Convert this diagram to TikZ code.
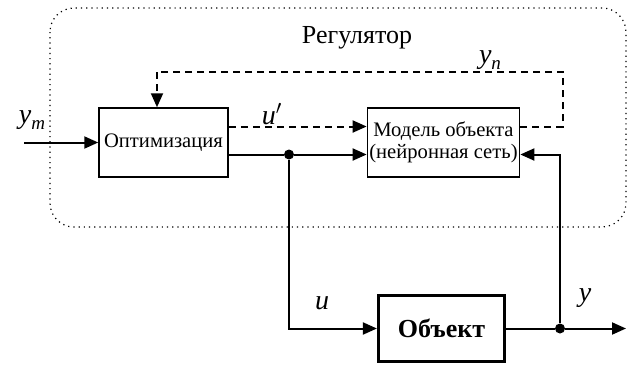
\documentclass[tikz,border=0pt]{standalone}
\usepackage{fontspec}
\setmainfont{LiberationSerif}[Extension=.ttf, UprightFont=*-Regular, BoldFont=*-Bold, ItalicFont=*-Italic, BoldItalicFont=*-BoldItalic]
\usetikzlibrary{arrows.meta}

\begin{document}
\begin{tikzpicture}[x=0.5pt, y=-0.5pt, font=\fontsize{10.3}{12}\selectfont]
        \useasboundingbox (0,0) rectangle (628,365);
        \tikzset{
            block/.style={draw, line width=0.75pt, minimum height=34.5pt, inner sep=1pt},
            plant/.style={draw, line width=1.6pt, minimum width=63pt, minimum height=33pt, font=\fontsize{13}{14}\selectfont\bfseries},
            signal/.style={line width=1pt, -{Triangle[length=7pt, width=6pt]}},
            model line/.style={line width=1pt, dash pattern=on 3.5pt off 2.5pt},
            dot/.style={circle, fill, inner sep=0pt, minimum size=5pt},
            var/.style={font=\fontsize{14}{14}\selectfont\itshape},
        }

        % regulator region
        \draw[dotted, line width=0.6pt, rounded corners=12pt] (50,8) rectangle (626,227);
        \node[font=\fontsize{13}{14}\selectfont] (reg) at (357,38) {Регулятор};

        % blocks
        \node[block, minimum width=64.5pt] (opt) at (163.5,142.5) {Оптимизация};
        \node[block, minimum width=75.5pt, align=center] (model) at (443.5,142.5) {Модель объекта\\[-1pt](нейронная сеть)};
        \node[plant] (obj) at (441.5,328.5) {Объект};

        % junctions and free ends
        \node[dot] (ju) at (289,154.5) {};
        \node[dot] (jy) at (560,328.5) {};
        \coordinate (in) at (24,141);
        \coordinate (out) at (626,328.5);
        \coordinate (fbr) at (563,72);
        \coordinate (fbl) at (157,72);

        % input
        \draw[signal] (in |- opt.west) -- (opt.west);
        \node[var] (ym) at (32,120) {y\raisebox{-0.5ex}{\fontsize{9.5}{9}\selectfont m}};

        % trial control to model
        \draw[model line, -{Triangle[length=7pt, width=6pt]}] ([yshift=8pt]opt.east) -- ([yshift=8pt]model.west);
        \node[var] (uprime) at (272,114) {u$'$};

        % control
        \draw[line width=1pt] ([yshift=-6pt]opt.east) -- (ju);
        \draw[signal] (ju) -- ([yshift=-6pt]model.west);
        \draw[signal] (ju) |- (obj.west);
        \node[var] (u) at (322,303) {u};

        % model output back to optimizer
        \draw[model line] ([yshift=8pt]model.east) -| (fbr) -- (fbl);
        \draw[model line, -{Triangle[length=7pt, width=6pt]}] (fbl) -- (fbl |- opt.north);
        \node[var] (yn) at (490,60) {y\raisebox{-0.5ex}{\fontsize{9.5}{9}\selectfont n}};

        % plant output
        \draw[line width=1pt] (obj.east) -- (jy);
        \draw[signal] (jy) -- (out);
        \draw[signal] (jy) |- ([yshift=-6pt]model.east);
        \node[var] (y) at (585,298) {y};
\end{tikzpicture}
\end{document}
